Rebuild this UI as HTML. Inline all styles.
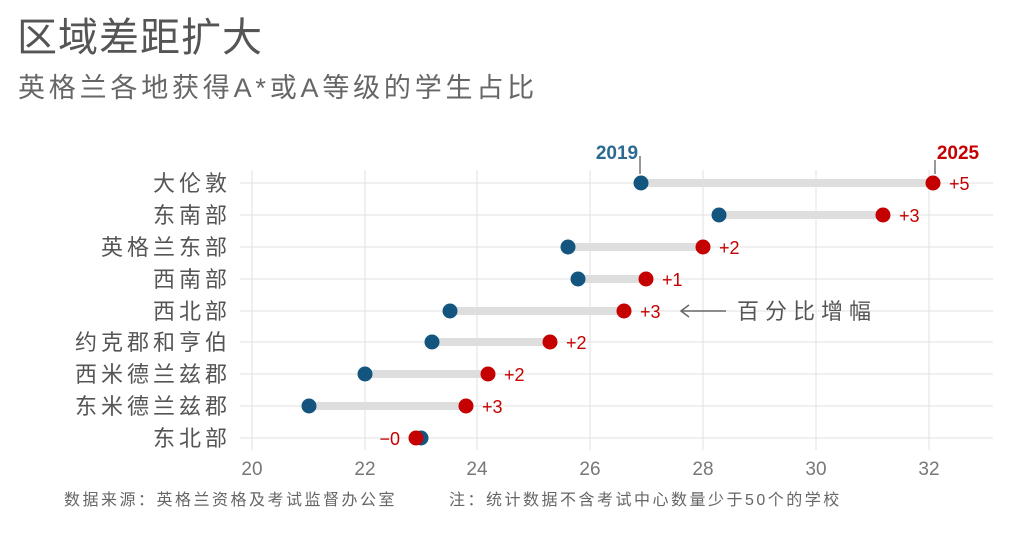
<!DOCTYPE html><html><head><meta charset="utf-8"><style>
body{margin:0;background:#fff;width:1012px;height:548px;overflow:hidden}
text{font-family:"Liberation Sans","Noto Sans CJK SC",sans-serif}
</style></head><body>
<svg width="1012" height="548" viewBox="0 0 1012 548" xmlns="http://www.w3.org/2000/svg">
<text x="17" y="51" font-size="40" fill="#555" letter-spacing="1">区域差距扩大</text>
<text x="18" y="97" font-size="27" fill="#666" letter-spacing="3.8">英格兰各地获得A*或A等级的学生占比</text>
<g stroke="#e2e2e2" stroke-width="1">
<line x1="252" y1="170" x2="252" y2="450"/><line x1="365" y1="170" x2="365" y2="450"/><line x1="477" y1="170" x2="477" y2="450"/><line x1="590" y1="170" x2="590" y2="450"/><line x1="703" y1="170" x2="703" y2="450"/><line x1="816" y1="170" x2="816" y2="450"/><line x1="929" y1="170" x2="929" y2="450"/>
<line x1="240" y1="183" x2="993" y2="183"/><line x1="240" y1="215" x2="993" y2="215"/><line x1="240" y1="247" x2="993" y2="247"/><line x1="240" y1="279" x2="993" y2="279"/><line x1="240" y1="311" x2="993" y2="311"/><line x1="240" y1="342" x2="993" y2="342"/><line x1="240" y1="374" x2="993" y2="374"/><line x1="240" y1="406" x2="993" y2="406"/><line x1="240" y1="438" x2="993" y2="438"/>
</g>
<g stroke="#dedede" stroke-width="8">
<line x1="641" y1="183" x2="933" y2="183"/><line x1="719" y1="215" x2="883" y2="215"/><line x1="568" y1="247" x2="703" y2="247"/><line x1="578" y1="279" x2="646" y2="279"/><line x1="450" y1="311" x2="624" y2="311"/><line x1="432" y1="342" x2="550" y2="342"/><line x1="365" y1="374" x2="488" y2="374"/><line x1="309" y1="406" x2="466" y2="406"/>
</g>
<g fill="#14557f">
<circle cx="641" cy="183" r="7.5"/><circle cx="719" cy="215" r="7.5"/><circle cx="568" cy="247" r="7.5"/><circle cx="578" cy="279" r="7.5"/><circle cx="450" cy="311" r="7.5"/><circle cx="432" cy="342" r="7.5"/><circle cx="365" cy="374" r="7.5"/><circle cx="309" cy="406" r="7.5"/><circle cx="421" cy="438" r="7.5"/>
</g>
<g fill="#c40000">
<circle cx="933" cy="183" r="7.5"/><circle cx="883" cy="215" r="7.5"/><circle cx="703" cy="247" r="7.5"/><circle cx="646" cy="279" r="7.5"/><circle cx="624" cy="311" r="7.5"/><circle cx="550" cy="342" r="7.5"/><circle cx="488" cy="374" r="7.5"/><circle cx="466" cy="406" r="7.5"/><circle cx="416" cy="438" r="7.5"/>
</g>
<g fill="#c40000" font-size="18">
<text x="949" y="190">+5</text><text x="899" y="222">+3</text><text x="719" y="254">+2</text><text x="662" y="286">+1</text><text x="640" y="318">+3</text><text x="566" y="349">+2</text><text x="504" y="381">+2</text><text x="482" y="413">+3</text><text x="400" y="445" text-anchor="end">−0</text>
</g>
<line x1="640" y1="156" x2="640" y2="174" stroke="#999" stroke-width="2"/>
<line x1="935" y1="160" x2="935" y2="174" stroke="#999" stroke-width="2"/>
<text x="617" y="159" font-size="19" font-weight="bold" fill="#2b6a94" text-anchor="middle">2019</text>
<text x="958" y="159" font-size="19" font-weight="bold" fill="#c40000" text-anchor="middle">2025</text>
<g fill="#555" font-size="22" text-anchor="end" letter-spacing="4">
<text x="231" y="191">大伦敦</text><text x="231" y="223">东南部</text><text x="231" y="255">英格兰东部</text><text x="231" y="287">西南部</text><text x="231" y="319">西北部</text><text x="231" y="350">约克郡和亨伯</text><text x="231" y="382">西米德兰兹郡</text><text x="231" y="414">东米德兰兹郡</text><text x="231" y="446">东北部</text>
</g>
<g fill="#777" font-size="19" text-anchor="middle">
<text x="252" y="475">20</text><text x="365" y="475">22</text><text x="477" y="475">24</text><text x="590" y="475">26</text><text x="703" y="475">28</text><text x="816" y="475">30</text><text x="929" y="475">32</text>
</g>
<g stroke="#666" stroke-width="1.5" fill="none"><line x1="681" y1="311" x2="726" y2="311"/><polyline points="689,305 681,311 689,317"/></g>
<text x="737" y="319" font-size="22" fill="#555" letter-spacing="6">百分比增幅</text>
<text x="64" y="505" font-size="16" fill="#666" letter-spacing="2.5">数据来源：英格兰资格及考试监督办公室</text>
<text x="449" y="505" font-size="16" fill="#666" letter-spacing="2.5">注：统计数据不含考试中心数量少于50个的学校</text>
</svg></body></html>
